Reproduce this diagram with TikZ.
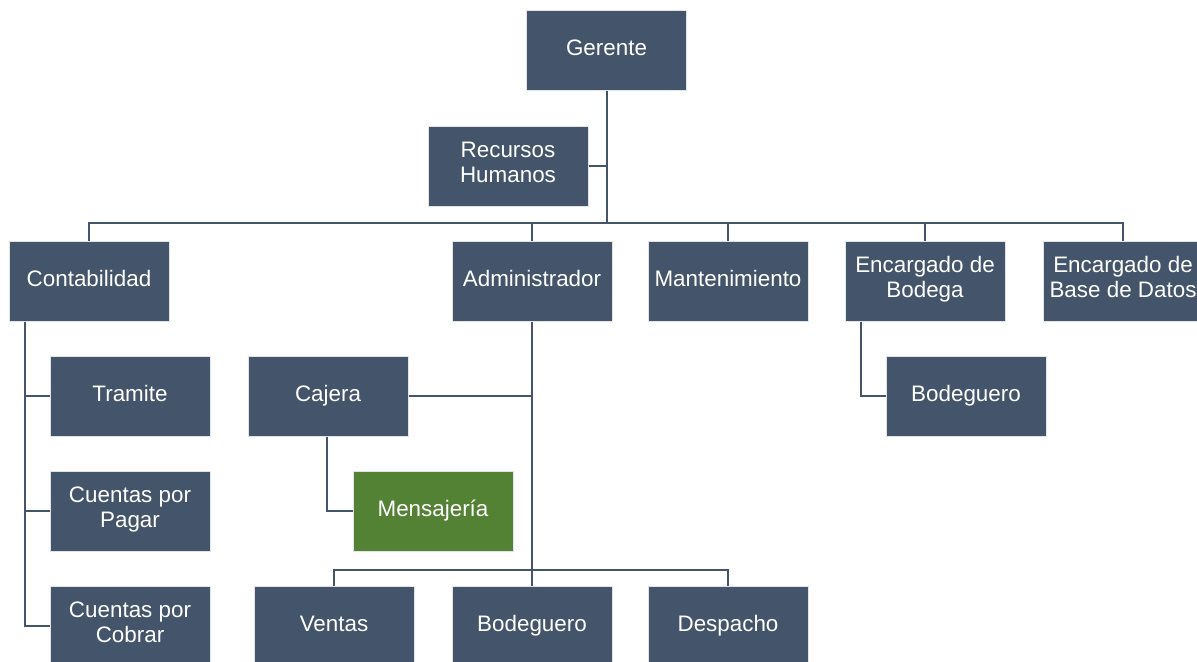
\documentclass[tikz,border=0pt]{standalone}
\usepackage{fontspec}
\setmainfont{Liberation Sans}
\usetikzlibrary{calc}
\definecolor{slate}{RGB}{68,84,106}
\definecolor{leaf}{RGB}{84,130,53}
\definecolor{rim}{RGB}{225,228,232}
\begin{document}
\begin{tikzpicture}[x=0.5pt,y=-0.5pt,
  box/.style={rectangle, fill=slate, draw=rim, line width=0.5pt,
    minimum width=80pt, minimum height=40pt, inner sep=1pt,
    text=white, align=center,
    font=\fontsize{11.2}{12.6}\selectfont,
    execute at begin node=\strut, execute at end node=\strut},
  greenbox/.style={box, fill=leaf},
  conn/.style={draw=slate, line width=1pt}]
\useasboundingbox (0,0) rectangle (1197,661);
\clip (0,0) rectangle (1197,661);

% top level
\node[box] (ger) at (606.5,50) {Gerente};
\node[box] (rh) at (508,166) {Recursos\\Humanos};

% second row
\node[box] (cont) at (89,281) {Contabilidad};
\node[box] (adm) at (532,281) {Administrador};
\node[box] (mant) at (728,281) {Mantenimiento};
\node[box] (encb) at (925,281) {Encargado de\\Bodega};
\node[box] (encd) at (1123,281) {Encargado de\\Base de Datos};

% accounting branch
\node[box] (tram) at (130,396) {Tramite};
\node[box] (pag) at (130,511) {Cuentas por\\Pagar};
\node[box] (cob) at (130,626) {Cuentas por\\Cobrar};

% administration branch
\node[box] (caj) at (328,396) {Cajera};
\node[greenbox] (mens) at (433,511) {Mensajería};
\node[box] (vent) at (334,626) {Ventas};
\node[box] (bodb) at (532,626) {Bodeguero};
\node[box] (desp) at (728,626) {Despacho};

% warehouse branch
\node[box] (boda) at (966,396) {Bodeguero};

% connectors
\coordinate (bus) at (0,223);
\coordinate (lowbus) at (0,570);
\draw[conn] (ger.south) -- (ger.south |- bus);
\draw[conn] (rh.east) -- (rh.east -| ger.south);
\draw[conn] (cont.north) |- (encd.north |- bus) -- (encd.north);
\draw[conn] (adm.north) -- (adm.north |- bus);
\draw[conn] (mant.north) -- (mant.north |- bus);
\draw[conn] (encb.north) -- (encb.north |- bus);

\coordinate (cl) at ($(cont.south west)+(16,0)$);
\draw[conn] (cl) |- (tram.west);
\draw[conn] (cl) |- (pag.west);
\draw[conn] (cl) |- (cob.west);

\draw[conn] (adm.south) -- (bodb.north);
\draw[conn] (caj.east) -- (caj.east -| adm.south);
\draw[conn] ($(caj.south)+(-1,0)$) |- (mens.west);
\draw[conn] (vent.north) |- (desp.north |- lowbus) -- (desp.north);

\coordinate (bl) at ($(encb.south west)+(16,0)$);
\draw[conn] (bl) |- (boda.west);
\end{tikzpicture}
\end{document}
